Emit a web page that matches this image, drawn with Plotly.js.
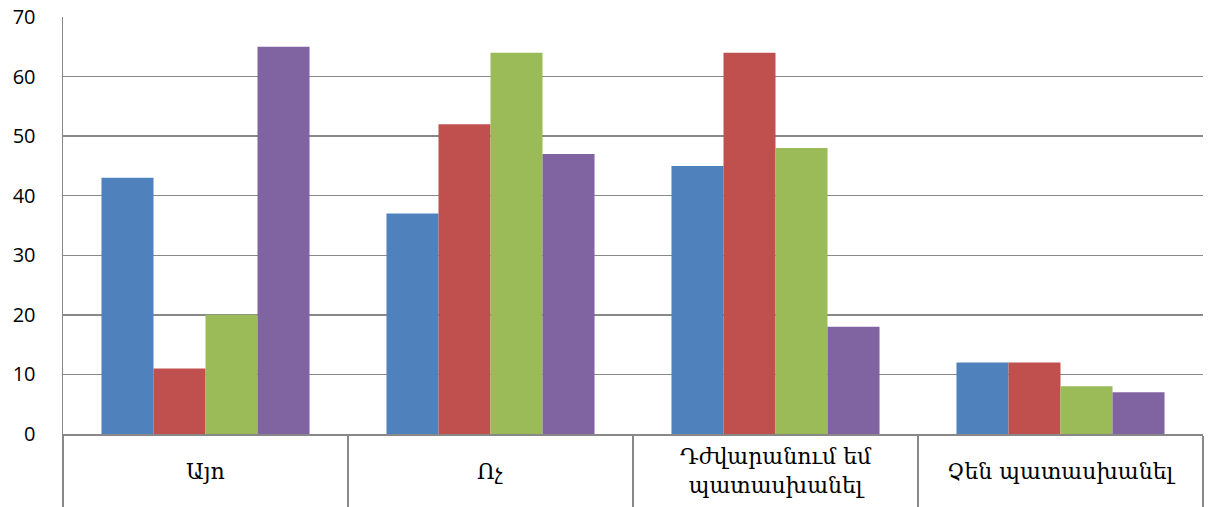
<!DOCTYPE html>
<html>
<head>
<meta charset="utf-8">
<script src="https://cdn.plot.ly/plotly-3.0.1.min.js"></script>
<style>html,body{margin:0;padding:0;background:#fff;}#chart{width:1209px;height:507px;}</style>
</head>
<body>
<div id="chart"></div>
<script>
const categories = ["Այո", "Ոչ", "Դժվարանում եմ<br>պատասխանել", "Չեն պատասխանել"];
const series1 = [43, 37, 45, 12];
const series2 = [11, 52, 64, 12];
const series3 = [20, 64, 48, 8];
const series4 = [65, 47, 18, 7];
const yTicks = [0, 10, 20, 30, 40, 50, 60, 70];

const colors = ["#4F81BD", "#C0504D", "#9BBB59", "#8064A2"];
const allSeries = [series1, series2, series3, series4];

const traces = allSeries.map((vals, i) => ({
  type: "bar",
  x: categories,
  y: vals,
  marker: { color: colors[i], line: { width: 0 } },
  hoverinfo: "none"
}));

const annotations = categories.map(c => ({
  x: c, xref: "x",
  y: 0, yref: "paper",
  yanchor: "middle",
  yshift: -37,
  text: c,
  showarrow: false,
  font: { family: "DejaVu Serif, serif", size: 22, color: "#000" }
}));

const layout = {
  width: 1209, height: 507,
  margin: { l: 63, r: 6, t: 17, b: 73 },
  paper_bgcolor: "#fff",
  plot_bgcolor: "#fff",
  showlegend: false,
  barmode: "group",
  bargap: 0.27,
  bargroupgap: 0,
  xaxis: {
    type: "category",
    range: [-0.5, 3.5],
    showticklabels: false,
    ticks: "outside",
    tickson: "boundaries",
    ticklen: 73,
    tickwidth: 1.5,
    tickcolor: "#888888",
    showline: true,
    linecolor: "#888888",
    linewidth: 1.5,
    showgrid: false,
    zeroline: false
  },
  yaxis: {
    range: [0, 70],
    tickvals: yTicks,
    ticktext: yTicks.map(String),
    ticks: "",
    ticklabelstandoff: 22,
    showline: true,
    linecolor: "#888888",
    linewidth: 1.5,
    showgrid: true,
    gridcolor: "#888888",
    gridwidth: 1.5,
    zeroline: false,
    tickfont: { family: "Open Sans", size: 20, color: "#000" }
  },
  annotations: annotations
};

Plotly.newPlot("chart", traces, layout, { staticPlot: true, displayModeBar: false });
</script>
</body>
</html>
